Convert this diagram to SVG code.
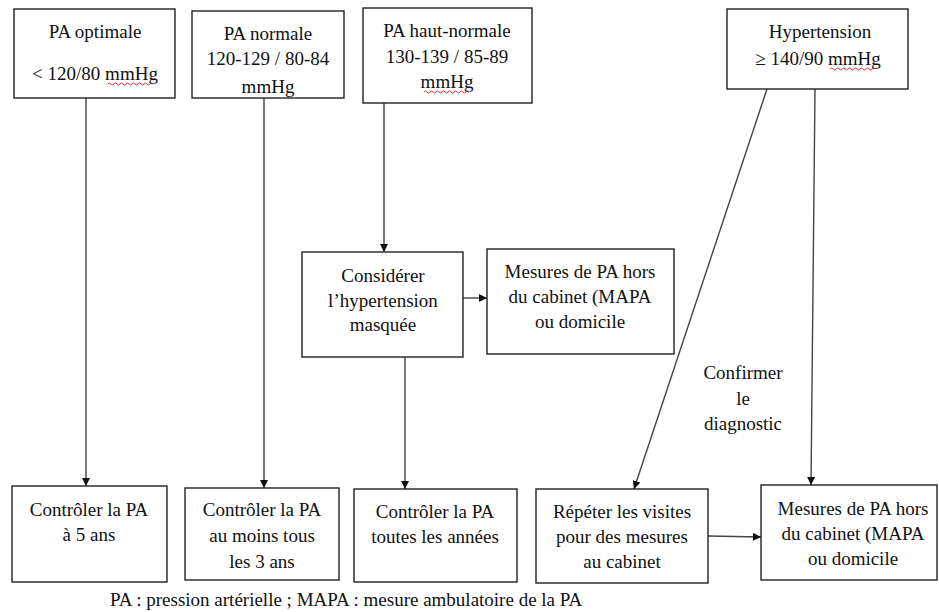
<svg xmlns="http://www.w3.org/2000/svg" width="939" height="612" viewBox="0 0 939 612">
  <style>
    .box { fill: #fff; stroke: #222; stroke-width: 1.4; }
    text { font-family: "Liberation Serif", "Times New Roman", serif; font-size: 19px; fill: #111; }
    .lbl { text-anchor: middle; }
    .conn { stroke: #444; stroke-width: 1.4; fill: none; marker-end: url(#head); }
    .squig { stroke: #e02020; stroke-width: 0.9; fill: none; }
  </style>
  <defs>
    <marker id="head" viewBox="0 0 10 10" refX="10" refY="5" markerWidth="8" markerHeight="8" markerUnits="userSpaceOnUse" orient="auto">
      <path d="M0,0 L10,5 L0,10 Z" fill="#111"/>
    </marker>
    <!-- the third line of "PA normale" runs past the bottom of its box -->
    <clipPath id="clipNormale">
      <rect x="192" y="11" width="152" height="86"/>
    </clipPath>
  </defs>
  <rect width="939" height="612" fill="#fff"/>

  <!-- connectors -->
  <g id="connectors">
    <line class="conn" x1="86" y1="98" x2="86" y2="486"/>
    <line class="conn" x1="264" y1="98" x2="264" y2="488"/>
    <line class="conn" x1="384" y1="103" x2="384" y2="252"/>
    <line class="conn" x1="405" y1="357" x2="405" y2="489"/>
    <line class="conn" x1="463" y1="298" x2="487" y2="298"/>
    <line class="conn" x1="767" y1="89" x2="634" y2="489"/>
    <line class="conn" x1="815" y1="89" x2="811" y2="485"/>
    <line class="conn" x1="708" y1="536" x2="761" y2="537"/>
  </g>

  <!-- top row -->
  <g id="pa-optimale">
    <rect class="box" x="14" y="9" width="161" height="89"/>
    <text class="lbl" x="95" y="38">PA optimale</text>
    <text class="lbl" x="95" y="80">&lt; 120/80 mmHg</text>
    <path class="squig" d="M108,84 q1.5,-2 3,0 t3,0 t3,0 t3,0 t3,0 t3,0 t3,0 t3,0 t3,0 t3,0 t3,0 t3,0 t3,0 t3,0 t3,0"/>
  </g>
  <g id="pa-normale">
    <rect class="box" x="192" y="11" width="152" height="87"/>
    <g clip-path="url(#clipNormale)">
      <text class="lbl" x="268" y="40">PA normale</text>
      <text class="lbl" x="268" y="65">120-129 / 80-84</text>
      <text class="lbl" x="268" y="93">mmHg</text>
    </g>
  </g>
  <g id="pa-haut-normale">
    <rect class="box" x="363" y="8" width="169" height="95"/>
    <text class="lbl" x="447" y="37">PA haut-normale</text>
    <text class="lbl" x="447" y="63">130-139 / 85-89</text>
    <text class="lbl" x="447" y="88">mmHg</text>
    <path class="squig" d="M424,92 q1.5,-2 3,0 t3,0 t3,0 t3,0 t3,0 t3,0 t3,0 t3,0 t3,0 t3,0 t3,0 t3,0 t3,0 t3,0 t3,0"/>
  </g>
  <g id="hypertension">
    <rect class="box" x="727" y="9" width="181" height="80"/>
    <text class="lbl" x="820" y="38">Hypertension</text>
    <text class="lbl" x="818" y="65">≥ 140/90 mmHg</text>
    <path class="squig" d="M830,69 q1.5,-2 3,0 t3,0 t3,0 t3,0 t3,0 t3,0 t3,0 t3,0 t3,0 t3,0 t3,0 t3,0 t3,0 t3,0 t3,0"/>
  </g>

  <!-- middle row -->
  <g id="hypertension-masquee">
    <rect class="box" x="302" y="252" width="161" height="105"/>
    <text class="lbl" x="383" y="282">Considérer</text>
    <text class="lbl" x="383" y="307">l’hypertension</text>
    <text class="lbl" x="383" y="331">masquée</text>
  </g>
  <g id="mesures-hors-cabinet-1">
    <rect class="box" x="487" y="249" width="187" height="105"/>
    <text class="lbl" x="580" y="278">Mesures de PA hors</text>
    <text class="lbl" x="580" y="303">du cabinet (MAPA</text>
    <text class="lbl" x="580" y="328">ou domicile</text>
  </g>
  <g id="confirmer">
    <text class="lbl" x="743" y="379">Confirmer</text>
    <text class="lbl" x="743" y="405">le</text>
    <text class="lbl" x="743" y="430">diagnostic</text>
  </g>

  <!-- bottom row -->
  <g id="controle-5-ans">
    <rect class="box" x="12" y="486" width="155" height="96"/>
    <text class="lbl" x="89" y="516">Contrôler la PA</text>
    <text class="lbl" x="89" y="541">à 5 ans</text>
  </g>
  <g id="controle-3-ans">
    <rect class="box" x="185" y="488" width="154" height="92"/>
    <text class="lbl" x="262" y="516">Contrôler la PA</text>
    <text class="lbl" x="262" y="542">au moins tous</text>
    <text class="lbl" x="262" y="568">les 3 ans</text>
  </g>
  <g id="controle-annuel">
    <rect class="box" x="354" y="489" width="163" height="93"/>
    <text class="lbl" x="435" y="518">Contrôler la PA</text>
    <text class="lbl" x="435" y="543">toutes les années</text>
  </g>
  <g id="repeter-visites">
    <rect class="box" x="536" y="489" width="172" height="94"/>
    <text class="lbl" x="622" y="518">Répéter les visites</text>
    <text class="lbl" x="622" y="543">pour des mesures</text>
    <text class="lbl" x="622" y="568">au cabinet</text>
  </g>
  <g id="mesures-hors-cabinet-2">
    <rect class="box" x="761" y="485" width="176" height="95"/>
    <text class="lbl" x="853" y="515">Mesures de PA hors</text>
    <text class="lbl" x="853" y="540">du cabinet (MAPA</text>
    <text class="lbl" x="853" y="565">ou domicile</text>
  </g>

  <!-- legend -->
  <text x="110" y="606">PA : pression artérielle ; MAPA : mesure ambulatoire de la PA</text>
</svg>
